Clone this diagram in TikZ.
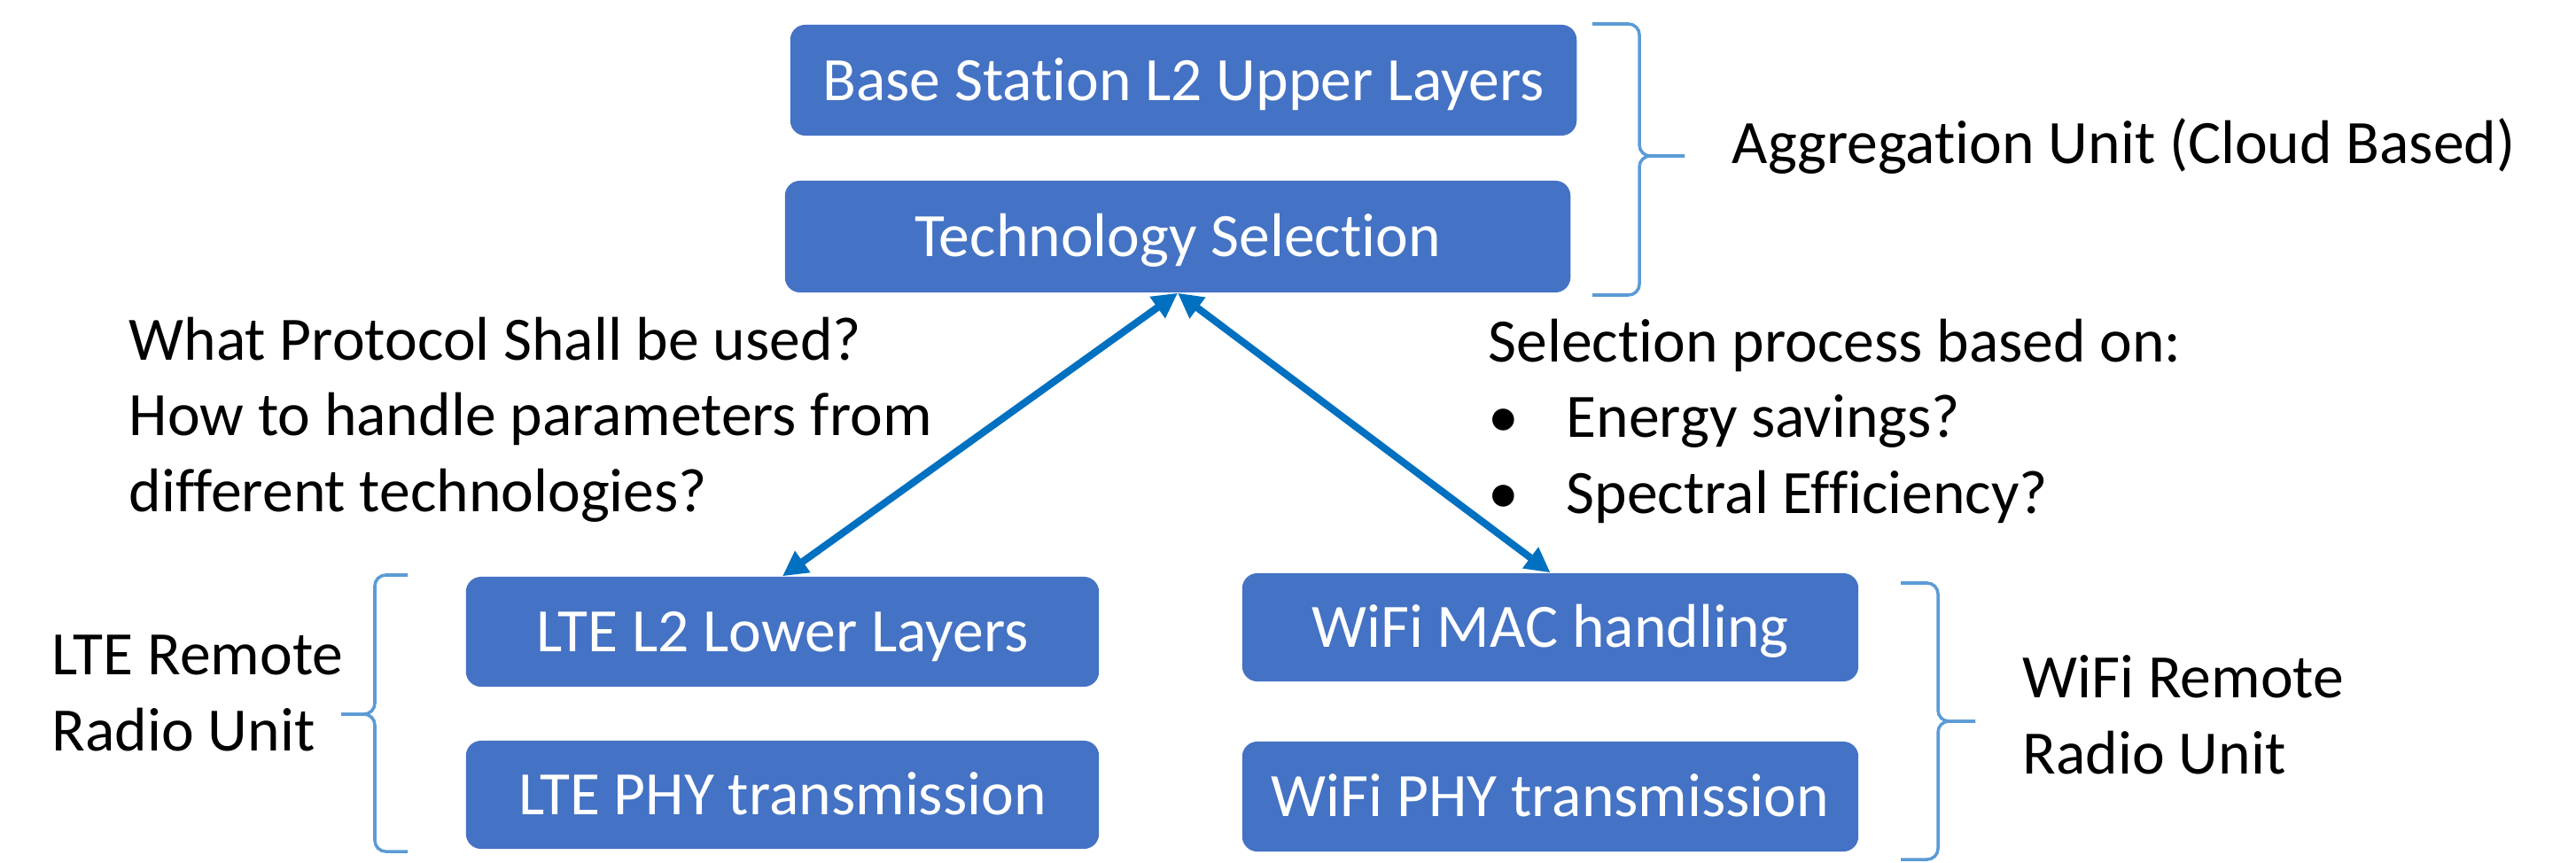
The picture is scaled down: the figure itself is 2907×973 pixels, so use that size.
\documentclass[tikz,border=0pt]{standalone}
\usepackage{fontspec}
\setmainfont{Carlito}[Ligatures={NoCommon}]
\usetikzlibrary{arrows.meta}
\definecolor{boxblue}{HTML}{4472C4}
\definecolor{arrowblue}{HTML}{0070C0}
\definecolor{braceblue}{HTML}{5B9BD5}
\begin{document}
\begin{tikzpicture}[x=0.01cm,y=-0.01cm,
  every node/.style={font=\fontsize{19.8pt}{24.2pt}\selectfont, inner sep=0pt},
  layerbox/.style={fill=boxblue, rounded corners=0.17cm, text=white,
    text height=0.45cm, text depth=0pt, anchor=center},
  txtlabel/.style={anchor=base west, align=left, text=black},
  biarrow/.style={draw=arrowblue, line width=2.3pt,
    {Triangle[length=8pt,width=8pt]}-{Triangle[length=8pt,width=8pt]}},
  bracepath/.style={draw=braceblue, line width=1pt, rounded corners=3.5pt}]
\useasboundingbox (0,0) rectangle (2907,973);

% aggregation unit boxes
\node[layerbox, minimum width=8.87cm, minimum height=1.25cm] (bs) at (1335.5,90.5) {Base Station L2 Upper Layers};
\node[layerbox, minimum width=8.86cm, minimum height=1.26cm] (ts) at (1329,267) {Technology Selection};

% LTE boxes
\node[layerbox, minimum width=7.14cm, minimum height=1.24cm] (lte2) at (883,713) {LTE L2 Lower Layers};
\node[layerbox, minimum width=7.14cm, minimum height=1.22cm] (ltephy) at (883,897) {LTE PHY transmission};

% WiFi boxes
\node[layerbox, minimum width=6.95cm, minimum height=1.22cm] (wmac) at (1749.5,708) {WiFi MAC handling};
\node[layerbox, minimum width=6.95cm, minimum height=1.24cm] (wphy) at (1749.5,899) {WiFi PHY transmission};

% arrows
\draw[biarrow] (ts.south) -- (lte2.north);
\draw[biarrow] (ts.south) -- (wmac.north);

% braces
\draw[bracepath] (1797,27) -- (1850,27) -- (1850,176) -- (1901,176);
\draw[bracepath] (1901,176) -- (1850,176) -- (1850,333) -- (1797,333);

\draw[bracepath] (460,649) -- (423,649) -- (423,806) -- (385,806);
\draw[bracepath] (385,806) -- (423,806) -- (423,961) -- (460,961);

\draw[bracepath] (2145,658) -- (2187,658) -- (2187,814) -- (2229,814);
\draw[bracepath] (2229,814) -- (2187,814) -- (2187,970) -- (2145,970);

% labels (multi-line nodes: base anchor is on the last line)
\node[txtlabel] (agg) at (1954,185) {Aggregation Unit (Cloud Based)};
\node[txtlabel] (q) at (145,577) {What Protocol Shall be used?\\How to handle parameters from\\different technologies?};
\node[txtlabel] (sel) at (1679,579) {Selection process based on:\\\makebox[0.88cm][l]{\textbullet}Energy savings?\\\makebox[0.88cm][l]{\textbullet}Spectral Efficiency?};
\node[txtlabel] (lterru) at (58,847) {LTE Remote\\Radio Unit};
\node[txtlabel] (wifirru) at (2282,873) {WiFi Remote\\Radio Unit};
\end{tikzpicture}
\end{document}
